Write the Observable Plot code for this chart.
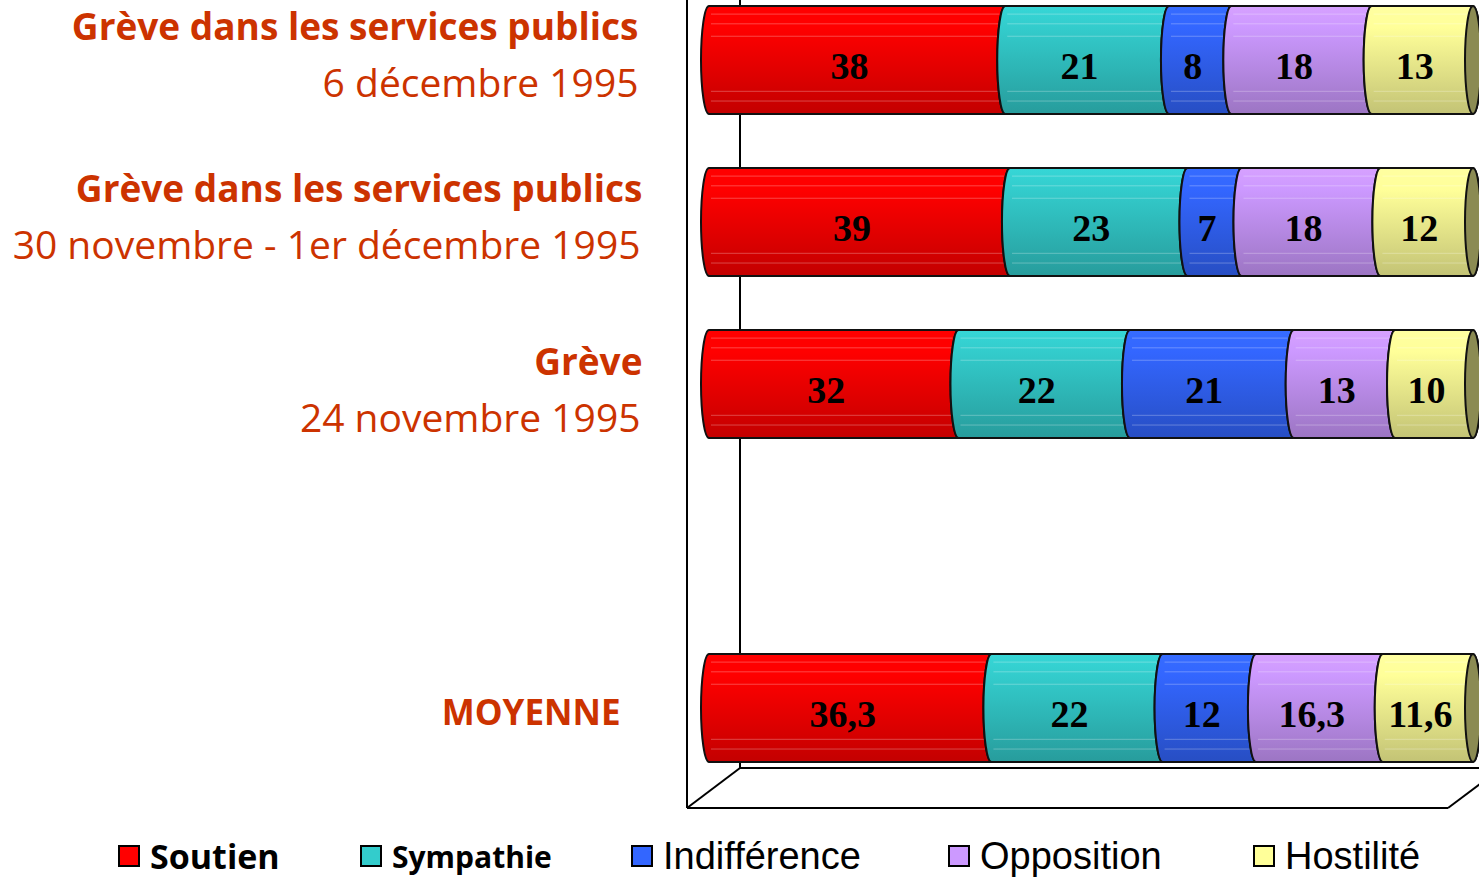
<!DOCTYPE html>
<html><head><meta charset="utf-8">
<script src="https://cdn.jsdelivr.net/npm/d3@7"></script>
<script src="https://cdn.jsdelivr.net/npm/@observablehq/plot@0.6"></script>
<style>
html,body{margin:0;padding:0;background:#fff;overflow:hidden;width:1479px;height:878px;}
#wrap{position:relative;width:1479px;height:878px;}
#legend{position:absolute;left:0;top:825px;width:1479px;height:62px;}
.li{position:absolute;top:0;height:62px;display:flex;align-items:center;white-space:nowrap;color:#000;}
.sw{width:22px;height:22px;border:2px solid #000;box-sizing:border-box;margin-right:10px;flex:none;}
</style></head><body><div id="wrap"><div id="chart"></div><div id="legend"></div></div>
<script>
// ---- data ----
const rowIds = ["1995-12-06", "1995-11-30", "1995-11-24", "moyenne"];
const rowTitles = ["Grève dans les services publics", "Grève dans les services publics", "Grève", "MOYENNE"];
const rowSubtitles = ["6 décembre 1995", "30 novembre - 1er décembre 1995", "24 novembre 1995", ""];
const series = ["Soutien", "Sympathie", "Indifférence", "Opposition", "Hostilité"];
const colors = ["#FF0000", "#33CCCC", "#3366FF", "#CC99FF", "#FFFF99"];
const soutien      = [38, 39, 32, 36.3];
const sympathie    = [21, 23, 22, 22];
const indifference = [8, 7, 21, 12];
const opposition   = [18, 18, 13, 16.3];
const hostilite    = [13, 12, 10, 11.6];
const seriesValues = [soutien, sympathie, indifference, opposition, hostilite];

// ---- layout (styles, not data) ----
const spacer = "(vide)";
const yDomain = [rowIds[0], rowIds[1], rowIds[2], spacer, rowIds[3]];
const labelLayout = [
  {dx: -67, subDx: -67, titleDy: -32, subDy: 24, size: 37},
  {dx: -63, subDx: -65, titleDy: -32, subDy: 24, size: 37},
  {dx: -63, subDx: -65, titleDy: -21, subDy: 35, size: 37},
  {dx: -85, subDx: -85, titleDy: 5, subDy: 0, size: 35}
];
const legendX = [118, 360, 631, 948, 1253];
const legendFont = [
  "bold 34px 'Open Sans'", "bold 30px 'Open Sans'",
  "38px 'Liberation Sans'", "38px 'Liberation Sans'", "38px 'Liberation Sans'"
];
const labelColor = "#CC3300";

// flat table
const table = [];
rowIds.forEach((id, r) => series.forEach((s, k) => table.push({row: id, serie: s, k, value: seriesValues[k][r]})));
const fmt = v => String(v).replace(".", ",");

const W = 1479, H = 820;
const marks = [
  Plot.barX(table, Plot.stackX({x: "value", y: "row", fill: "serie", order: null, offset: "normalize"})),
  Plot.text(table, Plot.stackX({x: "value", y: "row", text: d => fmt(d.value), order: null, offset: "normalize",
    fontFamily: "'Liberation Serif', serif", fontWeight: "bold", fontSize: 38, fill: "#000", dy: 6, dx: -4}))
];
rowIds.forEach((id, i) => {
  const L = labelLayout[i];
  marks.push(Plot.text([i], {y: j => rowIds[j], text: j => rowTitles[j], frameAnchor: "left", textAnchor: "end",
    dx: L.dx, dy: L.titleDy, fill: labelColor, fontFamily: "'Open Sans'", fontWeight: "bold", fontSize: L.size}));
  if (rowSubtitles[i] !== "") marks.push(Plot.text([i], {y: j => rowIds[j], text: j => rowSubtitles[j], frameAnchor: "left", textAnchor: "end",
    dx: L.subDx, dy: L.subDy, fill: labelColor, fontFamily: "'Open Sans'", fontWeight: "normal", fontSize: 39}));
});

const chart = Plot.plot({
  width: W, height: H,
  marginLeft: 705, marginRight: 10, marginTop: 5, marginBottom: 58,
  x: {domain: [0, 1], axis: null},
  y: {domain: yDomain, axis: null, paddingInner: 0.334, paddingOuter: 0},
  color: {domain: series, range: colors},
  style: {background: "#fff", fontFamily: "'Open Sans'"},
  marks
});
document.getElementById("chart").appendChild(chart);

// ---- cylinder rendering of bars ----
const svg = d3.select(chart);
const defs = svg.append("defs");
colors.forEach((c, i) => {
  const base = d3.color(c);
  const g = defs.append("linearGradient").attr("id", "cyl" + i).attr("x1", 0).attr("y1", 0).attr("x2", 0).attr("y2", 1);
  g.append("stop").attr("offset", 0).attr("stop-color", base.brighter(0.15).formatHex());
  g.append("stop").attr("offset", 0.2).attr("stop-color", base.formatHex());
  g.append("stop").attr("offset", 1).attr("stop-color", base.darker(0.75).formatHex());
});
const barGroup = svg.select('g[aria-label="bar"]');
const rects = barGroup.selectAll("rect").nodes();
const byRow = d3.group(rects.map((n, i) => ({n, d: table[i]})), e => e.d.row);
const e = 8;
for (const [, items] of byRow) {
  items.sort((a, b) => +a.n.getAttribute("x") - +b.n.getAttribute("x"));
  items.forEach((it, j) => {
    const n = it.n;
    const x = +n.getAttribute("x"), y = +n.getAttribute("y"), w = +n.getAttribute("width"), h = +n.getAttribute("height");
    const t = y, b = y + h, r = h / 2, xa = x, xb = x + w;
    const last = j === items.length - 1;
    const d = `M${xa + 4},${t} A${e},${r} 0 0 0 ${xa + 4},${b} L${xb + 4},${b} A${e},${r} 0 0 ${last ? 0 : 1} ${xb + 4},${t} Z`;
    const parent = n.parentNode;
    const g = d3.create("svg:g");
    g.append("path").attr("d", d).attr("fill", `url(#cyl${it.d.k})`);
    [0.075, 0.165, 0.28, 0.79, 0.88].forEach(f => {
      g.append("line").attr("x1", xa + 6).attr("x2", xb - 2).attr("y1", t + f * h).attr("y2", t + f * h)
        .attr("stroke", "#fff").attr("stroke-opacity", 0.28).attr("stroke-width", 1);
    });
    g.append("path").attr("d", d).attr("fill", "none").attr("stroke", "#111").attr("stroke-width", 2);
    if (last) {
      const cap = d3.color(colors[it.d.k]).darker(1.7).formatHex();
      g.append("ellipse").attr("cx", xb + 4).attr("cy", t + r).attr("rx", e).attr("ry", r)
        .attr("fill", cap).attr("stroke", "#111").attr("stroke-width", 2);
    }
    parent.insertBefore(g.node(), n);
    n.remove();
  });
}

// ---- 3D frame (derived from scales) ----
const X = chart.scale("x"), Y = chart.scale("y");
const x0 = X.apply(0);
const yb = Y.apply(rowIds[3]) + Y.bandwidth;
const back = x0 + 35, front = x0 - 18, fb = yb + 6, ff = yb + 46;
const frame = svg.insert("g", 'g[aria-label="bar"]').attr("stroke", "#000").attr("stroke-width", 2).attr("fill", "none");
const seg = (a, b2, c, d2) => frame.append("line").attr("x1", a).attr("y1", b2).attr("x2", c).attr("y2", d2);
seg(back, 0, back, fb);
seg(back, fb, W, fb);
seg(front, 0, front, ff);
seg(front, ff, W - 31, ff);
seg(front, ff, back, fb);
seg(W - 31, ff, W + 1, ff - 24);

// ---- legend ----
const leg = d3.select("#legend");
series.forEach((s, i) => {
  const it = leg.append("div").attr("class", "li").style("left", legendX[i] + "px");
  it.append("div").attr("class", "sw").style("background", colors[i]);
  it.append("span").style("font", legendFont[i]).text(s);
});
</script>
</body></html>
